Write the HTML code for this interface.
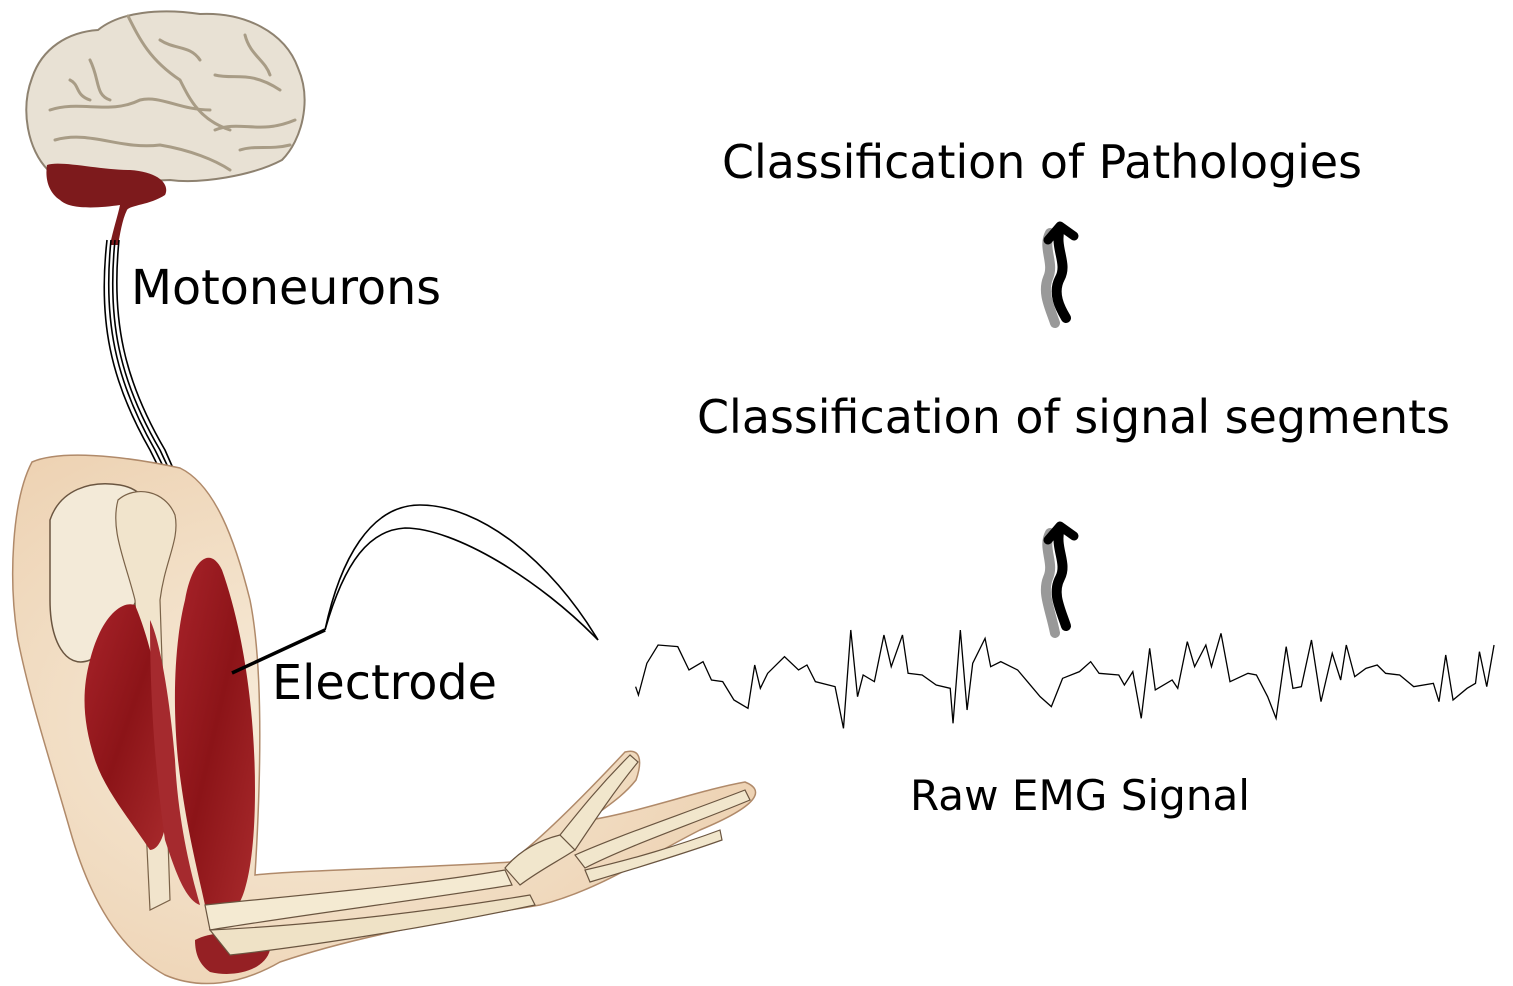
<!DOCTYPE html>
<html><head><meta charset="utf-8"><style>
html,body{margin:0;padding:0;background:#fff;}
svg{display:block;}
text{font-family:"DejaVu Sans","Liberation Sans",sans-serif;fill:#000;}
</style></head><body>
<svg width="1513" height="986" viewBox="0 0 1513 986" xmlns="http://www.w3.org/2000/svg">
<defs>
<radialGradient id="skin" cx="0.4" cy="0.5" r="0.7">
<stop offset="0" stop-color="#f7ecda"/><stop offset="1" stop-color="#eccfae"/></radialGradient>
<linearGradient id="mus" x1="0" y1="0" x2="1" y2="1">
<stop offset="0" stop-color="#a8232a"/><stop offset="0.5" stop-color="#8c1418"/><stop offset="1" stop-color="#a82a2c"/></linearGradient>
</defs>

<!-- Brain -->
<path d="M48,170 C28,150 20,110 32,78 C42,48 68,32 98,30 C120,12 160,8 200,14 C245,12 285,32 298,68 C312,100 302,140 282,160 C252,176 200,184 170,180 C130,182 80,182 48,170 Z" fill="#e8e1d4" stroke="#8e8270" stroke-width="2"/>
<g fill="none" stroke="#a89c86" stroke-width="3" stroke-linecap="round">
<path d="M128,16 C140,40 150,60 180,80 C190,100 200,120 230,130"/>
<path d="M50,110 C80,100 110,115 140,100 C160,95 180,110 210,110"/>
<path d="M55,140 C90,130 120,150 160,145 C190,150 215,160 230,170"/>
<path d="M215,75 C235,80 250,70 280,90"/>
<path d="M215,130 C240,120 260,135 295,120"/>
<path d="M90,60 C100,80 95,95 110,100"/>
<path d="M70,80 C80,85 75,95 90,100"/>
<path d="M160,40 C175,50 190,45 200,60"/>
<path d="M245,35 C250,55 265,60 270,75"/>
<path d="M240,150 C255,145 270,150 290,145"/>
</g>
<!-- cerebellum + stem -->
<path d="M47,165 C60,160 100,170 130,170 C160,172 170,185 165,195 C150,205 130,205 127,210 C122,220 120,235 118,245 L110,245 C113,230 118,215 120,205 C100,208 70,210 60,200 C48,192 45,178 47,165 Z" fill="#7d1a1c"/>

<!-- nerves -->
<g fill="none" stroke="#000" stroke-width="1.6">
<path d="M107,240 C98,320 110,380 150,450 C165,480 175,500 181,522"/>
<path d="M111,240 C103,320 115,380 155,450 C170,480 180,500 185,522"/>
<path d="M115,240 C107,320 119,380 160,450 C174,480 184,500 189,521"/>
<path d="M119,240 C111,320 124,380 165,450 C178,480 188,500 193,519"/>
</g>

<!-- Arm -->
<path d="M32,462 C60,450 120,455 180,468 C215,485 235,540 250,600 C262,660 262,760 255,875 C300,870 420,868 510,862 C540,840 580,800 625,752 C640,748 643,760 636,780 C620,800 600,810 590,820 C640,812 700,790 745,782 C765,790 760,805 700,830 C650,855 600,890 540,905 C450,920 360,935 280,962 C240,985 200,990 165,975 C120,950 90,900 70,830 C50,760 30,700 18,640 C8,580 12,500 32,462 Z" fill="url(#skin)" stroke="#b08a6a" stroke-width="1.5"/>
<path d="M50,520 C60,490 90,480 120,485 C150,490 160,520 150,560 C140,600 120,640 90,660 C65,670 50,640 50,600 Z" fill="#f3ead8" stroke="#6a5540" stroke-width="1.5"/>
<path d="M118,500 C135,485 165,490 175,515 C180,540 165,560 160,600 L170,900 L150,910 L135,600 C125,560 110,530 118,500 Z" fill="#f1e4cc" stroke="#7a6248" stroke-width="1.2"/>
<!-- muscles -->
<path d="M90,660 C100,620 120,600 135,605 C150,640 165,700 168,780 C170,830 160,850 150,850 C130,820 105,790 95,760 C82,720 82,690 90,660 Z" fill="url(#mus)"/>
<path d="M185,600 C192,560 210,545 222,570 C240,620 255,700 255,790 C255,850 248,890 238,905 L205,905 C195,860 185,820 178,760 C172,700 175,640 185,600 Z" fill="url(#mus)"/>
<path d="M150,620 C160,640 170,700 175,760 C178,820 190,870 200,905 C185,900 175,870 165,840 C158,790 150,720 150,620 Z" fill="#a52a2e"/>
<path d="M195,940 C215,930 245,930 270,950 C265,970 235,978 210,972 C200,965 195,955 195,940 Z" fill="#952024"/>
<!-- forearm bones -->
<path d="M205,905 C300,895 420,885 505,870 L512,885 C420,900 300,915 210,930 Z" fill="#f4ead2" stroke="#6a5540" stroke-width="1.2"/>
<path d="M210,930 C320,925 440,910 530,895 L535,905 C440,925 320,945 230,955 Z" fill="#efe2c6" stroke="#6a5540" stroke-width="1.2"/>
<g fill="#f1e6cc" stroke="#6a5540" stroke-width="1.2">
<path d="M505,868 C520,850 540,840 560,835 L575,850 C560,860 540,870 520,885 Z"/>
<path d="M560,835 C580,810 600,785 630,755 L638,762 C615,790 595,820 575,850 Z"/>
<path d="M575,855 C620,835 680,815 745,790 L750,800 C690,825 630,845 585,868 Z"/>
<path d="M585,870 C630,860 680,845 720,830 L722,840 C680,855 630,870 590,882 Z"/>
</g>

<!-- electrode -->
<path d="M232,673 L325,630" stroke="#000" stroke-width="3.5" fill="none"/>
<g fill="none" stroke="#000" stroke-width="1.6">
<path d="M325,630 C340,560 370,505 420,505 C480,505 550,560 598,640"/>
<path d="M325,630 C345,560 370,530 405,528 C455,528 540,580 598,640"/>
</g>

<!-- EMG signal -->
<polyline transform="translate(630,620) scale(0.5618,0.3333)" vector-effect="non-scaling-stroke" fill="none" stroke="#000" stroke-width="1.3"
points="10,200 15,225 30,130 50,75 85,80 105,150 130,125 145,180 165,185 185,240 210,265 222,135 232,205 245,160 275,110 300,150 315,135 330,185 365,200 380,325 393,30 405,230 415,165 435,185 452,45 465,140 485,45 495,160 520,165 545,195 570,205 575,310 588,30 600,270 610,130 632,55 642,140 660,125 690,150 710,190 730,230 750,260 770,175 800,155 820,125 835,160 870,165 880,195 895,155 910,295 925,85 935,210 965,180 975,205 992,65 1005,140 1025,75 1035,140 1052,40 1068,185 1100,160 1115,165 1135,230 1150,295 1168,80 1180,205 1195,200 1213,60 1230,245 1250,100 1265,180 1275,75 1290,170 1310,145 1330,135 1345,160 1370,165 1395,200 1430,190 1440,245 1452,105 1465,240 1490,205 1505,190 1512,95 1525,200 1538,75"/>

<!-- wavy arrows -->
<g fill="none" stroke-linecap="round" stroke-linejoin="round">
<g transform="translate(1010,218)">
<path d="M40,15 C32,30 45,45 38,60 C32,75 40,90 45,105" stroke="#999" stroke-width="10"/>
<path d="M50,10 C44,30 58,45 50,60 C42,75 50,90 56,100" stroke="#000" stroke-width="10"/>
<path d="M38,22 L50,8 L64,18" stroke="#000" stroke-width="9"/>
</g>
<g transform="translate(1010,518)">
<path d="M40,15 C32,30 45,45 38,60 C32,75 40,90 45,115" stroke="#999" stroke-width="10"/>
<path d="M50,10 C44,30 58,45 50,60 C42,75 50,90 56,108" stroke="#000" stroke-width="10"/>
<path d="M38,22 L50,8 L64,18" stroke="#000" stroke-width="9"/>
</g>
</g>

<!-- text -->
<text x="722" y="178" font-size="46" textLength="640" lengthAdjust="spacingAndGlyphs">Classification of Pathologies</text>
<text x="697" y="433" font-size="46" textLength="753" lengthAdjust="spacingAndGlyphs">Classification of signal segments</text>
<text x="131" y="304" font-size="48" textLength="310" lengthAdjust="spacingAndGlyphs">Motoneurons</text>
<text x="272" y="699" font-size="48" textLength="225" lengthAdjust="spacingAndGlyphs">Electrode</text>
<text x="910" y="810" font-size="42" textLength="340" lengthAdjust="spacingAndGlyphs">Raw EMG Signal</text>
</svg>
</body></html>
